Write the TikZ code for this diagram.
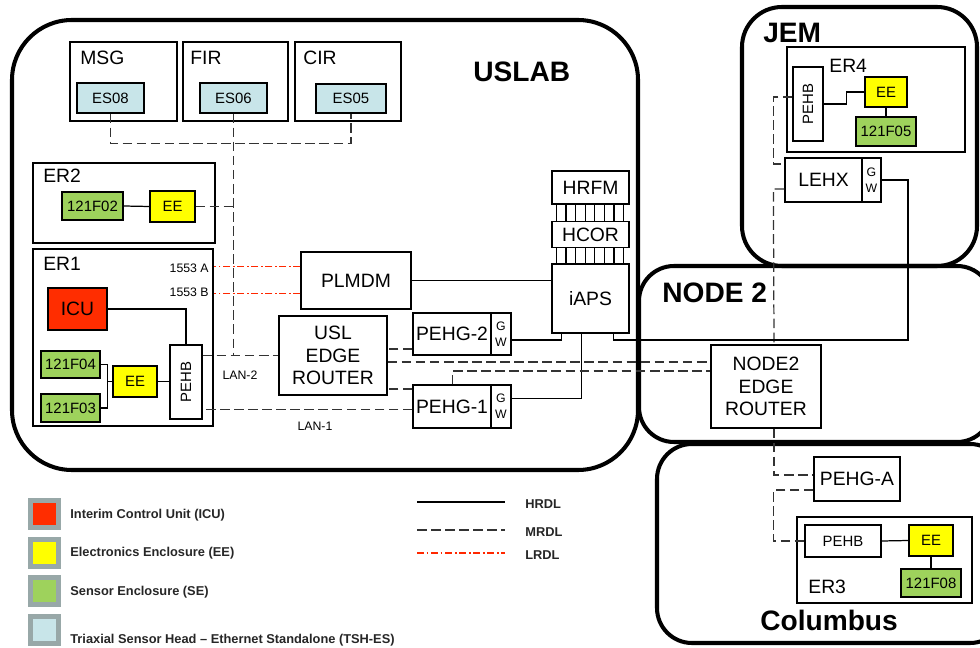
\documentclass[tikz,border=0pt]{standalone}
\usepackage{fontspec}
\setmainfont{Liberation Sans}
\usetikzlibrary{positioning,calc}
\definecolor{icured}{RGB}{255,45,0}
\definecolor{eeyellow}{RGB}{255,255,0}
\definecolor{segreen}{RGB}{158,210,92}
\definecolor{tshblue}{RGB}{200,229,233}
\definecolor{keygrey}{RGB}{152,168,168}
\definecolor{lrdlred}{RGB}{255,40,0}
\tikzset{
  unitbox/.style={draw, line width=0.7pt, inner sep=0pt, align=center},
  sz/.style 2 args={minimum width=#1*0.02cm, minimum height=#2*0.02cm},
  module/.style={draw, line width=2.3pt},
  modlabel/.style={anchor=base west, inner sep=0pt, font=\fontsize{16}{18}\selectfont\bfseries},
  boxlabel/.style={anchor=base west, inner sep=0pt},
  smalltext/.style={font=\fontsize{8.5}{10}\selectfont},
  gwtext/.style={font=\fontsize{7}{9}\selectfont},
  buslabel/.style={inner sep=0pt, font=\fontsize{7}{8}\selectfont},
  keytext/.style={inner sep=0pt, anchor=west, text=black!85, font=\fontsize{7.3}{9}\selectfont\bfseries},
  hrdl/.style={line width=0.7pt},
  mrdl/.style={line width=0.7pt, black!80, dash pattern=on 5.5pt off 2.5pt},
  lrdl/.style={line width=0.9pt, lrdlred, dash pattern=on 4pt off 1.5pt on 1pt off 1.5pt}
}
\begin{document}
\begin{tikzpicture}[x=0.02cm, y=-0.02cm, font=\fontsize{11}{13}\selectfont]
\useasboundingbox (0,0) rectangle (980,648);
\clip (0,0) rectangle (980,648);

\draw [module, rounded corners=1.2cm] (12,20) rectangle (638,470);
\draw [module, rounded corners=0.8cm] (742,7) rectangle (977,266);
\draw [module, rounded corners=0.7cm] (639,266) rectangle (992,442);
\draw [module, rounded corners=0.7cm] (657,444) rectangle (1005,643);
\node [modlabel] (uslablbl) at (473,82) {USLAB};
\node [modlabel] (jemlbl) at (763,43) {JEM};
\node [modlabel] (node2lbl) at (662,303) {NODE 2};
\node [modlabel, anchor=base] (columbuslbl) at (829,630) {Columbus};

\node [unitbox, sz={107}{79}] (msg) at (123.5,81.5) {};
\node [boxlabel] (msglbl) at (80,65) {MSG};
\node [unitbox, sz={67}{30}, fill=tshblue, smalltext] (es08) at (110.5,98) {ES08};
\node [unitbox, sz={105}{79}] (fir) at (235.5,81.5) {};
\node [boxlabel] (firlbl) at (190,65) {FIR};
\node [unitbox, sz={67}{30}, fill=tshblue, smalltext] (es06) at (233.5,98) {ES06};
\node [unitbox, sz={106}{79}] (cir) at (348,81.5) {};
\node [boxlabel] (cirlbl) at (303,65) {CIR};
\node [unitbox, sz={70}{29}, fill=tshblue, smalltext] (es05) at (351,98.5) {ES05};

\node [unitbox, sz={182}{80}] (er2) at (124,203) {};
\node [boxlabel] (er2lbl) at (43,183) {ER2};
\node [unitbox, sz={61}{28}, fill=segreen, smalltext] (f02) at (92.5,206) {121F02};
\node [unitbox, sz={45}{31}, fill=eeyellow, smalltext] (ee2) at (172.5,206.5) {EE};
\draw [hrdl] (f02.east) -- (ee2.west);

\node [unitbox, sz={180}{177}] (er1) at (123,337.5) {};
\node [boxlabel] (er1lbl) at (43,271) {ER1};
\node [unitbox, sz={59}{42}, fill=icured] (icu) at (77.5,309) {ICU};
\node [unitbox, sz={32}{74}] (pehb1) at (186,382) {};
\node [smalltext, rotate=90, inner sep=0pt] (pehb1lbl) at (pehb1.center) {PEHB};
\node [unitbox, sz={59}{27}, fill=segreen, smalltext] (f04) at (70.5,364.5) {121F04};
\node [unitbox, sz={59}{28}, fill=segreen, smalltext] (f03) at (70.5,408) {121F03};
\node [unitbox, sz={44}{31}, fill=eeyellow, smalltext] (ee1) at (135,381.5) {EE};
\draw [hrdl] (icu.east) -| (pehb1.north);
\coordinate (sejoin) at ([shift={(7,0)}]f04.east);
\draw [hrdl] (f04.east) -- (sejoin) |- (f03.east);
\draw [hrdl] (ee1.west) -- (ee1.west -| sejoin);
\draw [hrdl] (ee1.east) -- (ee1.east -| pehb1.west);
\node [buslabel, anchor=base east] (busalbl) at (209,273) {1553 A};
\node [buslabel, anchor=base east] (busblbl) at (209,297) {1553 B};

\node [unitbox, sz={110}{57}] (plmdm) at (356,280.5) {PLMDM};
\node [unitbox, sz={108}{79}] (router) at (333,355.5) {USL\\EDGE\\ROUTER};
\node [unitbox, sz={78}{42}] (pehg2) at (452,334) {PEHG-2};
\node [unitbox, sz={20}{42}, gwtext] (gw2) at (501,334) {G\\W};
\node [unitbox, sz={78}{43}] (pehg1) at (452,406.5) {PEHG-1};
\node [unitbox, sz={20}{43}, gwtext] (gw1) at (501,406.5) {G\\W};
\node [unitbox, sz={77}{33}] (hrfm) at (590.5,187.5) {HRFM};
\node [unitbox, sz={77}{26}] (hcor) at (590.5,234.5) {HCOR};
\node [unitbox, sz={77}{69}] (iaps) at (590.5,298.5) {iAPS};
\foreach \k in {0,...,7} {
  \draw [hrdl] ([shift={(5+9.6*\k,0)}]hrfm.south west) -- ([shift={(5+9.6*\k,0)}]hcor.north west);
  \draw [hrdl] ([shift={(5+9.6*\k,0)}]hcor.south west) -- ([shift={(5+9.6*\k,0)}]iaps.north west);
}
\node [buslabel] (lan2lbl) at (240,375) {LAN-2};
\node [buslabel] (lan1lbl) at (315,426) {LAN-1};

\draw [mrdl] (es08.south) -- ++(0,30) -| (es05.south);
\draw [mrdl] (es06.south) -- (es06.south |- router.west);
\draw [mrdl] (ee2.east) -- (ee2.east -| es06.south);
\draw [mrdl] (pehb1.east |- router.west) -- (router.west);
\coordinate (lan1end) at ([shift={(0,3)}]pehg1.west);
\draw [mrdl] (lan1end) -- (lan1end -| pehb1.east);
\coordinate (busa) at ([shift={(0,-14)}]plmdm.west);
\coordinate (busb) at ([shift={(0,13)}]plmdm.west);
\draw [lrdl] (busa) -- (busa -| er1.east);
\draw [lrdl] (busb) -- (busb -| er1.east);
\draw [hrdl] (plmdm.east) -- (plmdm.east -| iaps.west);
\draw [hrdl] ([shift={(0,6)}]gw2.east) -| ([shift={(10,0)}]iaps.south west);
\draw [hrdl] ([shift={(0,-8)}]gw1.east) -| ([shift={(30,0)}]iaps.south west);
\coordinate (p2in) at ([shift={(0,15)}]pehg2.west);
\draw [mrdl] (p2in) -- (p2in -| router.east);
\coordinate (p1in) at ([shift={(0,-17.5)}]pehg1.west);
\draw [mrdl] (p1in) -- (p1in -| router.east);

\node [unitbox, sz={110}{83}] (n2router) at (766,386.5) {NODE2\\EDGE\\ROUTER};
\coordinate (n2ina) at ([shift={(0,6.5)}]router.east);
\draw [mrdl] (n2ina) -- (n2ina -| n2router.west);
\draw [mrdl] ([shift={(40,0)}]pehg1.north west) |- ([shift={(0,-15.5)}]n2router.west);

\node [unitbox, sz={178}{105}] (er4) at (876,99.5) {};
\node [boxlabel] (er4lbl) at (829,73) {ER4};
\node [unitbox, sz={30}{74}] (pehb4) at (808,104) {};
\node [smalltext, rotate=90, inner sep=0pt] (pehb4lbl) at (pehb4.center) {PEHB};
\node [unitbox, sz={42}{30}, fill=eeyellow, smalltext] (ee4) at (886,92) {EE};
\node [unitbox, sz={60}{29}, fill=segreen, smalltext] (f05) at (886,131.5) {121F05};
\draw [hrdl] (pehb4.east) -- ++(23,0) |- (ee4.west);
\draw [hrdl] (ee4.south) -- (f05.north);
\node [unitbox, sz={77}{44}] (lehx) at (823.5,180) {LEHX};
\node [unitbox, sz={19}{44}, gwtext] (lehxgw) at (871.5,180) {G\\W};
\draw [mrdl] ([shift={(0,-7)}]pehb4.west) -- ++(-19,0) |- ([shift={(0,-16)}]lehx.west);
\draw [mrdl] ([shift={(0,9)}]lehx.west) -- ++(-11,0) -- ([shift={(8,0)}]n2router.north);
\coordinate (hrdlbend) at (908,340);
\draw [hrdl] ([shift={(62,0)}]iaps.south west) |- (hrdlbend) |- (lehxgw.east);

\node [unitbox, sz={86}{44}] (pehga) at (857,479) {PEHG-A};
\node [unitbox, sz={175}{86}] (er3) at (884.5,560) {};
\node [boxlabel] (er3lbl) at (808,593) {ER3};
\node [unitbox, sz={76}{32}, smalltext] (pehb3) at (843,541) {PEHB};
\node [unitbox, sz={44}{31}, fill=eeyellow, smalltext] (ee3) at (931,540.5) {EE};
\node [unitbox, sz={60}{28}, fill=segreen, smalltext] (f08) at (931,583) {121F08};
\draw [hrdl] (pehb3.east) -- (ee3.west);
\draw [hrdl] (ee3.south) -- (f08.north);
\draw [mrdl] ([shift={(8,0)}]n2router.south) |- ([shift={(0,-4)}]pehga.west);
\draw [mrdl] ([shift={(0,11)}]pehga.west) -- ++(-40,0) |- (pehb3.west);

\foreach \col/\yy/\ty/\txt [count=\i] in {icured/514/515/Interim Control Unit (ICU), eeyellow/553/553/Electronics Enclosure (EE), segreen/591/592/Sensor Enclosure (SE), tshblue/630/640/Triaxial Sensor Head -- Ethernet Standalone (TSH-ES)} {
  \node [draw=keygrey, line width=2.8pt, fill=\col, sz={28}{27}] (key\i) at (44.5,\yy) {};
  \node [keytext] (keylbl\i) at (70,\ty) {\txt};
}
\foreach \sty/\yy/\txt in {hrdl/502/HRDL, mrdl/530/MRDL, lrdl/553/LRDL} {
  \coordinate (\txt start) at (417,\yy);
  \coordinate (\txt end) at (505,\yy);
  \draw [\sty] (\txt start) -- (\txt end);
  \node [keytext] (\txt lbl) at (525,\yy+2) {\txt};
}
\end{tikzpicture}
\end{document}
